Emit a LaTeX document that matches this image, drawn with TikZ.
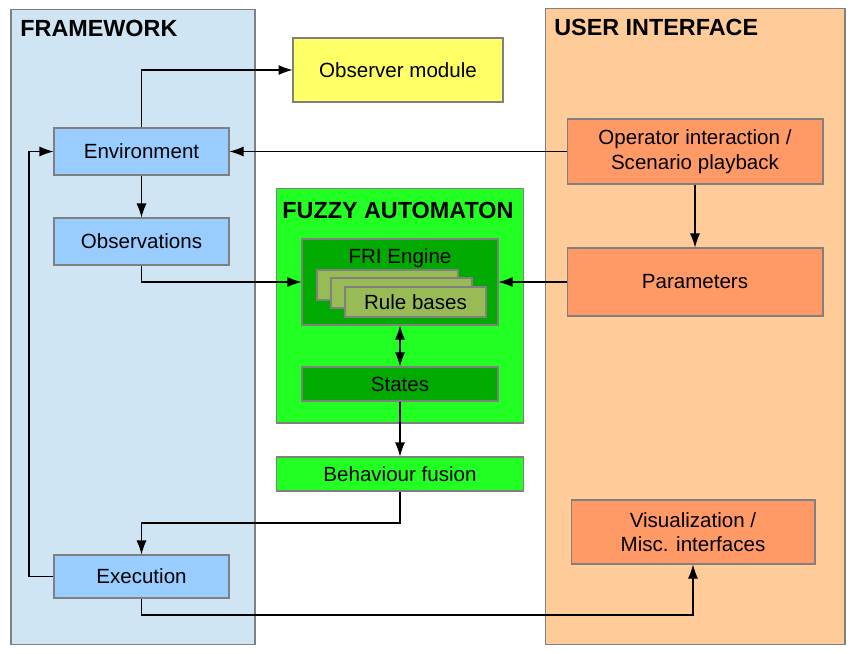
\documentclass[tikz,border=0pt]{standalone}
\usepackage{fontspec}
\setmainfont{Liberation Sans}
\usetikzlibrary{arrows.meta}

\definecolor{framebg}{HTML}{CFE5F3}
\definecolor{uibg}{HTML}{FFCC99}
\definecolor{observerfill}{HTML}{FFFF66}
\definecolor{bluebox}{HTML}{99CCFF}
\definecolor{orangebox}{HTML}{FF9966}
\definecolor{fuzzyfill}{HTML}{22FF22}
\definecolor{darkgreen}{HTML}{00AA00}
\definecolor{rulefill}{HTML}{99BB55}
\definecolor{edgegray}{HTML}{808080}

\tikzset{
    box/.style={draw=edgegray, line width=0.6pt, inner sep=0pt, align=center, font=\fontsize{11.7}{14}\selectfont},
    title/.style={anchor=west, inner sep=0pt, font=\fontsize{13.3}{16}\selectfont\bfseries},
    flow/.style={-{Latex[length=2.8mm,width=2mm]}, line width=0.6pt}
}

\begin{document}
\begin{tikzpicture}[x=0.02cm, y=-0.02cm]
    \useasboundingbox (0,0) rectangle (855,653);

    % Background panels
    \node[box, fill=framebg, minimum width=4.88cm, minimum height=12.72cm] (framework) at (133,327) {};
    \node[box, fill=uibg, minimum width=6cm, minimum height=12.74cm] (ui) at (695,326.5) {};
    \node[title] (frameworklbl) at (20,28) {FRAMEWORK};
    \node[title] (uilbl) at (554,27) {USER INTERFACE};

    % Framework blocks
    \node[box, fill=bluebox, minimum width=3.5cm, minimum height=0.94cm] (env) at (141.5,151.5) {Environment};
    \node[box, fill=bluebox, minimum width=3.5cm, minimum height=0.94cm] (obs) at (141.5,241.5) {Observations};
    \node[box, fill=bluebox, minimum width=3.5cm, minimum height=0.86cm] (exec) at (141.5,576.5) {Execution};

    % Observer module
    \node[box, fill=observerfill, minimum width=4.2cm, minimum height=1.28cm] (observer) at (398,70) {Observer module};

    % Fuzzy automaton
    \node[box, fill=fuzzyfill, minimum width=4.94cm, minimum height=4.7cm] (fuzzy) at (400,305.5) {};
    \node[title] (fuzzylbl) at (282,210) {FUZZY AUTOMATON};
    \node[box, fill=darkgreen, minimum width=3.92cm, minimum height=1.72cm] (fri) at (400,282) {};
    \node[inner sep=0pt, font=\fontsize{11.7}{14}\selectfont] (frilbl) at (400,258) {FRI Engine};
    \node[box, fill=rulefill, minimum width=2.82cm, minimum height=0.6cm] (rule1) at (387.5,285) {};
    \node[box, fill=rulefill, minimum width=2.82cm, minimum height=0.6cm] (rule2) at (401.5,293) {};
    \node[box, fill=rulefill, minimum width=2.82cm, minimum height=0.6cm] (rule3) at (415.5,302) {Rule bases};
    \node[box, fill=darkgreen, minimum width=3.92cm, minimum height=0.68cm] (states) at (400,384) {States};
    \node[box, fill=fuzzyfill, minimum width=4.94cm, minimum height=0.68cm] (fusion) at (400,474) {Behaviour fusion};

    % User interface blocks
    \node[box, fill=orangebox, minimum width=5.12cm, minimum height=1.3cm] (operator) at (695,151.5) {Operator interaction /\\Scenario playback};
    \node[box, fill=orangebox, minimum width=5.12cm, minimum height=1.36cm] (params) at (695,282) {Parameters};
    \node[box, fill=orangebox, minimum width=4.88cm, minimum height=1.28cm] (vis) at (693,532) {Visualization /\\Misc. interfaces};

    % Turning points
    \coordinate (loopleft) at (29,576.5);
    \coordinate (fusionturn) at (400,523);
    \coordinate (execturn) at (141.5,615);

    % Connectors
    \draw[flow] (env.north) |- (observer.west);
    \draw[flow] (operator.west) -- (env.east);
    \draw[flow] (env.south) -- (obs.north);
    \draw[flow] (obs.south) |- (fri.west);
    \draw[flow] (params.west) -- (fri.east);
    \draw[flow] (operator.south) -- (params.north);
    \draw[flow, {Latex[length=2.8mm,width=2mm]}-{Latex[length=2.8mm,width=2mm]}] (fri.south) -- (states.north);
    \draw[flow] (states.south) -- (fusion.north);
    \draw[flow] (fusion.south) -- (fusionturn) -| (exec.north);
    \draw[flow] (exec.west) -- (loopleft) |- (env.west);
    \draw[flow] (exec.south) -- (execturn) -| (vis.south);
\end{tikzpicture}
\end{document}
